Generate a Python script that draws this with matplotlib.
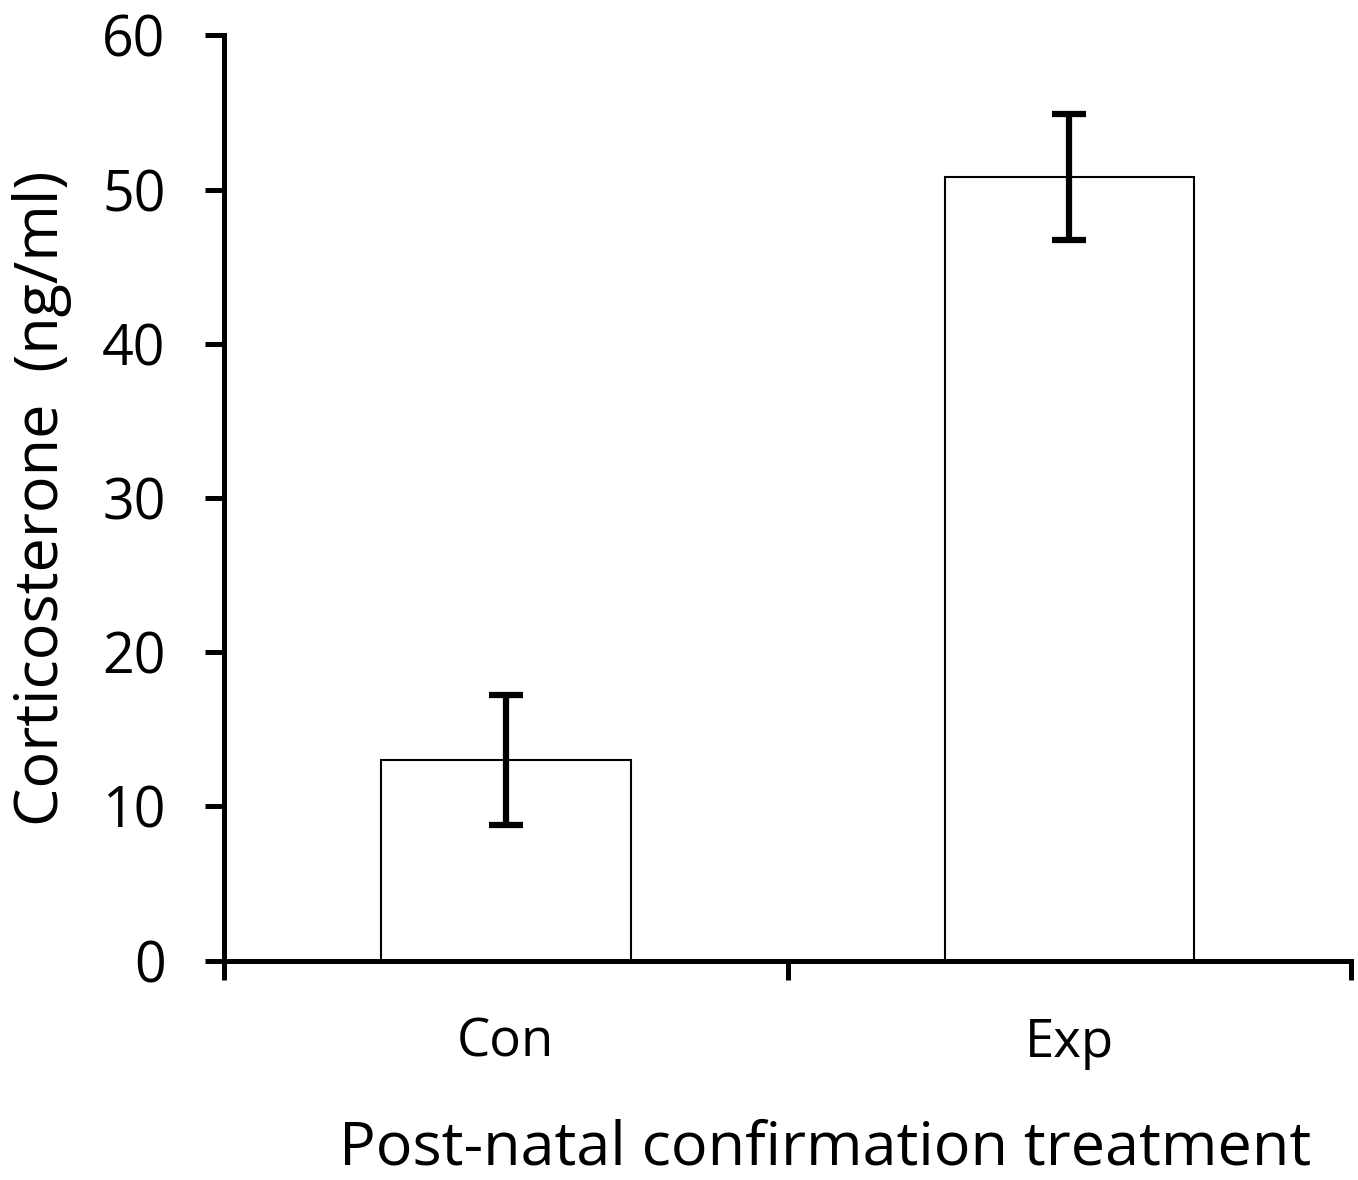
import matplotlib
matplotlib.use('Agg')
import matplotlib.pyplot as plt

groups = ['Con', 'Exp']
means = [13.0, 50.8]
errors = [4.2, 4.1]

plt.rcParams['font.family'] = ['Open Sans', 'DejaVu Sans']

fig = plt.figure(figsize=(13.58, 11.8), dpi=100)
ax = fig.add_axes([0.165, 0.186, 0.83, 0.784])

x = range(len(groups))
ax.bar(x, means, width=0.443, color='white', edgecolor='black', linewidth=1.5, zorder=2)
ax.errorbar(x, means, yerr=errors, fmt='none', ecolor='black', elinewidth=4.5,
            capsize=12, capthick=4.5, zorder=3)

ax.set_xlim(-0.5, 1.5)
ax.set_ylim(0, 60)
ax.set_yticks(range(0, 61, 10))
ax.set_xticks([-0.5, 0.5, 1.5])
ax.set_xticklabels([])
ax.set_xticks([0, 1], minor=True)
ax.set_xticklabels(groups, minor=True)

for s in ['top', 'right']:
    ax.spines[s].set_visible(False)
for s in ['left', 'bottom']:
    ax.spines[s].set_linewidth(3.6)

ax.tick_params(axis='y', which='major', length=14, width=3.6, labelsize=40, pad=28)
ax.tick_params(axis='x', which='major', length=14, width=3.6)
ax.tick_params(axis='x', which='minor', length=0, labelsize=38, pad=40)

ax.set_ylabel('Corticosterone  (ng/ml)', fontsize=44, labelpad=22)
ax.set_xlabel('Post-natal confirmation treatment', fontsize=44, labelpad=35, x=0.533)

fig.savefig('out.png', dpi=100)
